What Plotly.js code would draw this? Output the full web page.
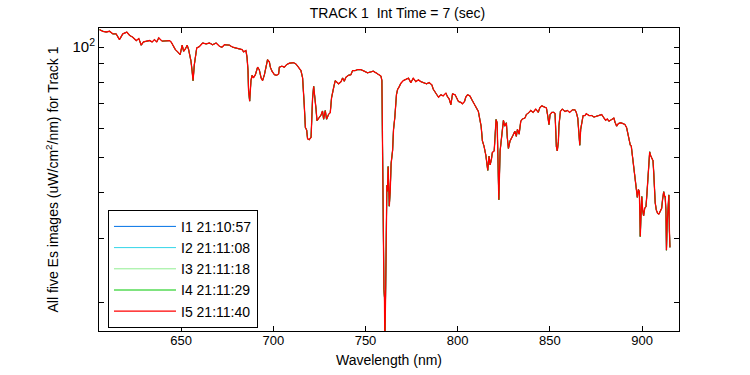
<!DOCTYPE html>
<html>
<head>
<meta charset="utf-8">
<script src="https://cdn.plot.ly/plotly-3.0.1.min.js"></script>
<style>
html,body{margin:0;padding:0;background:#fff;}
#chart{width:750px;height:375px;}
</style>
</head>
<body>
<div id="chart"></div>
<script>
// Wavelength (nm) sample positions
const wavelength = [
605.8,607.6,609.4,611.2,613.0,614.8,616.6,618.4,620.6,622.0,623.8,625.7,627.1,628.4,629.6,631.1,632.9,634.3,635.6,636.8,
637.9,639.7,641.9,643.7,644.6,645.9,646.9,648.2,649.5,650.6,651.4,652.4,653.3,654.1,654.9,655.4,656.0,656.5,657.2,657.8,
658.5,659.9,661.7,663.6,665.4,667.1,669.0,670.8,672.2,673.5,676.2,678.0,679.8,681.6,683.1,683.9,685.2,685.8,686.3,686.6,
687.2,687.9,688.5,689.2,690.3,691.5,692.4,693.4,694.2,695.2,696.1,696.9,697.9,698.4,699.3,700.6,701.8,702.9,703.3,704.7,
706.0,707.2,708.7,710.9,712.3,713.7,714.1,715.0,715.9,716.3,716.8,717.4,718.1,718.6,719.5,720.5,720.8,721.3,721.9,722.6,
723.2,723.7,725.0,725.9,726.7,727.3,728.2,728.9,730.0,730.9,731.6,732.2,732.9,733.6,734.3,735.4,736.7,737.6,738.5,739.4,
740.8,742.1,743.0,744.4,745.7,747.5,749.3,751.1,752.9,754.2,755.7,757.1,758.4,758.9,759.1,759.5,760.0,760.3,760.5,760.9,
761.1,761.6,761.9,762.3,762.9,763.4,763.9,764.7,765.2,765.9,766.8,767.4,768.3,769.2,770.5,771.9,773.3,774.6,775.9,777.3,
778.7,780.0,781.8,783.1,784.5,786.0,786.7,787.8,788.7,789.6,790.9,792.1,793.6,794.4,795.4,796.3,797.2,798.6,799.3,800.4,
801.7,802.6,803.7,804.4,805.3,806.6,807.7,808.9,810.2,811.2,812.0,812.7,813.4,814.3,815.3,816.0,816.3,817.0,817.6,818.3,
818.8,819.8,820.3,820.8,821.4,821.9,822.3,823.0,823.9,824.8,825.5,826.4,826.9,827.5,828.4,829.3,830.0,831.0,831.8,832.4,
833.3,834.2,835.1,836.5,837.2,838.7,839.6,840.9,842.3,843.7,844.5,845.6,846.8,848.1,848.8,849.5,850.1,851.0,852.1,852.8,
853.5,854.0,854.6,854.9,855.7,856.7,858.2,859.5,860.7,862.2,863.6,864.3,865.1,865.6,866.2,866.7,867.3,868.0,869.0,869.7,
871.2,872.7,873.9,875.2,876.5,878.1,879.3,880.2,881.1,882.0,883.5,884.7,885.3,886.2,887.1,888.4,889.6,890.7,891.6,892.3,
892.9,893.6,894.1,894.7,895.2,895.8,896.3,896.9,897.4,898.0,898.5,898.8,899.0,899.4,899.8,900.3,900.8,901.4,902.1,902.6,
903.2,903.7,904.1,904.6,905.2,905.9,906.3,906.6,907.1,907.7,908.4,909.1,909.8,910.6,911.1,911.7,912.2,912.5,912.9,913.2,
913.6,914.1,914.5,914.8,915.1
];

// Es irradiance (uW/cm^2/nm); the five images overlap almost exactly
const esRead = [
111.7,110.6,110.1,110.6,108.8,108.8,104.9,108.8,110.0,107.9,106.5,104.3,105.6,101.3,103.4,103.9,104.3,103.4,104.9,103.4,
106.1,103.9,104.3,104.3,103.4,100.6,98.5,97.1,95.4,101.3,97.5,99.1,101.3,98.5,95.1,91.5,86.0,81.0,89.6,95.4,
99.6,100.4,102.7,102.1,102.7,101.6,102.7,100.6,100.0,101.6,101.3,100.0,99.6,99.1,98.5,97.1,97.9,93.5,86.3,76.1,
71.2,81.0,83.8,82.4,84.1,88.2,86.8,82.4,81.0,84.1,87.8,92.5,91.1,88.2,86.0,84.1,83.8,84.5,88.2,88.7,
88.2,89.6,90.4,90.7,90.0,88.2,87.8,86.3,82.4,77.4,69.4,60.3,59.3,56.1,55.8,56.7,65.0,72.4,78.2,73.5,
67.6,62.9,64.2,65.2,66.9,63.5,67.1,63.5,65.5,66.2,72.7,75.8,78.2,81.0,80.4,79.4,80.4,82.4,80.7,82.8,
83.8,84.1,86.3,86.3,86.8,86.8,86.0,85.1,85.6,86.0,85.1,84.1,83.3,81.0,57.7,36.1,21.7,20.6,15.0,21.0,
30.7,41.9,40.3,47.1,36.7,40.3,48.0,52.2,59.5,64.2,74.2,76.6,78.0,79.7,81.0,81.7,82.3,80.0,82.3,80.5,
81.4,80.5,80.0,79.4,80.0,78.9,76.8,75.6,74.1,73.0,74.1,73.6,74.9,73.3,72.1,69.6,74.5,74.1,72.6,71.0,
70.6,70.0,71.0,73.0,74.1,73.6,71.8,70.0,68.6,66.7,63.4,60.8,55.4,53.5,50.5,47.6,46.0,50.3,47.6,49.4,
51.5,52.0,60.8,63.4,62.1,51.0,38.2,52.0,58.4,63.1,60.8,62.1,56.6,52.8,55.4,56.3,57.4,58.9,57.0,59.6,
57.8,62.7,63.6,64.0,65.4,66.3,67.1,66.3,67.7,66.3,68.2,69.1,68.6,68.2,65.0,61.4,65.4,66.3,66.3,65.8,
53.5,52.0,55.1,61.0,66.7,67.7,66.7,67.1,66.3,67.4,67.4,66.3,64.0,60.2,53.9,59.6,63.1,65.0,65.0,65.8,
65.0,65.0,64.4,64.7,65.0,65.4,64.0,63.1,63.6,62.7,63.4,64.0,62.3,60.8,61.8,62.1,61.8,61.4,60.2,57.8,
55.4,53.9,53.7,50.5,47.6,44.6,42.1,39.4,38.8,40.8,40.2,34.3,30.3,34.7,39.0,35.8,34.5,36.2,36.6,39.6,
45.1,50.3,51.7,50.5,49.7,48.9,45.4,40.5,37.5,35.8,35.1,34.9,35.5,36.2,38.3,40.2,39.0,39.0,35.8,27.8,
33.0,38.0,39.4,31.4,28.3
];

const es1 = esRead, es2 = esRead, es3 = esRead, es4 = esRead, es5 = esRead;
const seriesNames = ['I1 21:10:57','I2 21:11:08','I3 21:11:18','I4 21:11:29','I5 21:11:40'];
const seriesColors = ['#0072E6','#33D6E8','#90EE90','#00C800','#FF0000'];
const seriesValues = [es1, es2, es3, es4, es5];

const yMajorVals = [100];
const yMajorText = ['10<sup>2</sup>'];
const yMinorVals = [20,30,40,50,60,70,80,90];
const xTickVals = [650,700,750,800,850,900];

const FONT = 'Liberation Sans, Arial, Helvetica, sans-serif';

const traces = seriesValues.map((v, i) => ({
  x: wavelength, y: v, type: 'scatter', mode: 'lines',
  name: seriesNames[i],
  line: {color: seriesColors[i], width: i === 4 ? 1.3 : 1}
}));

const layout = {
  width: 750, height: 375,
  paper_bgcolor: '#fff', plot_bgcolor: '#fff',
  margin: {l: 99, r: 71, t: 28, b: 44},
  font: {family: FONT, size: 13, color: '#000'},
  title: {text: 'TRACK 1  Int Time = 7 (sec)', x: 0.53, xanchor: 'center', y: 0.965, yanchor: 'middle',
          font: {family: FONT, size: 14, color: '#000'}},
  showlegend: true,
  legend: {x: 0.0155, y: 0.40, xanchor: 'left', yanchor: 'top',
           bordercolor: '#000', borderwidth: 1, bgcolor: '#fff',
           font: {family: FONT, size: 14, color: '#000'}, itemwidth: 62, tracegroupgap: 0},
  xaxis: {
    range: [605.5, 920], tickvals: xTickVals, ticks: 'inside', ticklen: 5, tickcolor: '#000',
    showline: true, linecolor: '#000', linewidth: 1, mirror: 'ticks', showgrid: false, zeroline: false,
    tickfont: {family: FONT, size: 13, color: '#000'}, ticklabelstandoff: -3,
    title: {text: 'Wavelength (nm)', font: {family: FONT, size: 14, color: '#000'}, standoff: 8}
  },
  yaxis: {
    type: 'log', range: [1.2227, 2.0527], tickvals: yMajorVals, ticktext: yMajorText,
    ticks: 'inside', ticklen: 5, tickcolor: '#000',
    minor: {tickvals: yMinorVals, ticks: 'inside', ticklen: 5, tickcolor: '#000', showgrid: false},
    showline: true, linecolor: '#000', linewidth: 1, mirror: 'ticks', showgrid: false, zeroline: false,
    tickfont: {family: FONT, size: 15, color: '#000'},
    title: {text: 'All five Es images (uW/cm<sup>2</sup>/nm) for Track 1', font: {family: FONT, size: 14, color: '#000'}, standoff: 10}
  }
};

Plotly.newPlot('chart', traces, layout, {displayModeBar: false, staticPlot: true});
</script>
</body>
</html>
